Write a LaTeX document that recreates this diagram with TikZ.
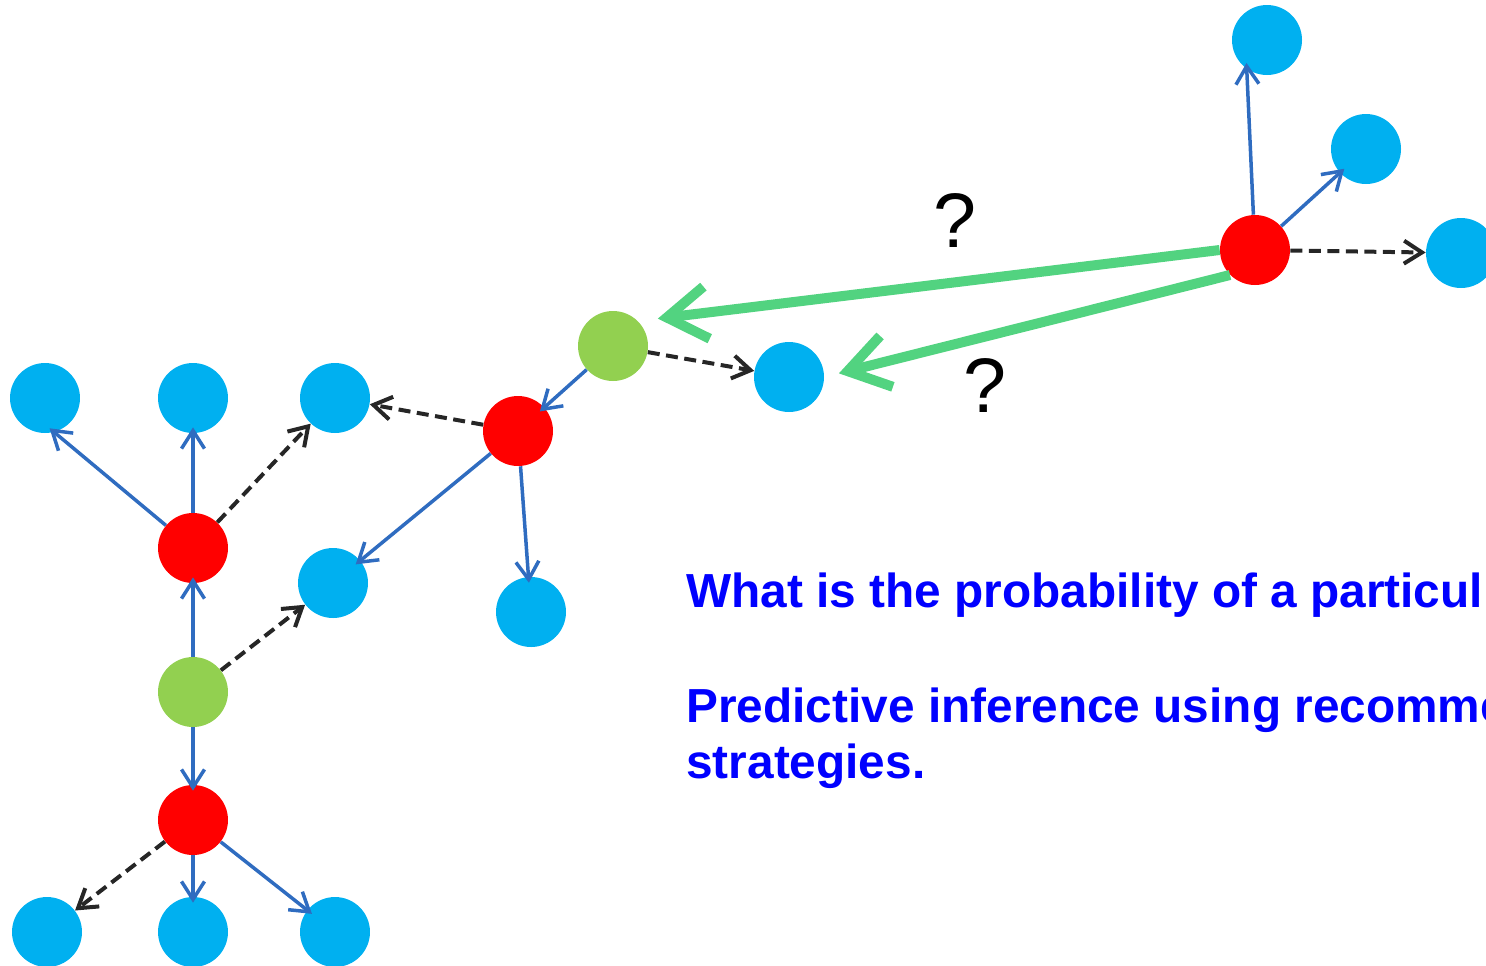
\documentclass[tikz,border=0pt]{standalone}
\usepackage{fontspec}
\setmainfont{Liberation Sans}
\usetikzlibrary{arrows.meta}

\definecolor{nodeblue}{RGB}{0,176,240}
\definecolor{nodered}{RGB}{255,0,0}
\definecolor{nodegreen}{RGB}{146,208,80}
\definecolor{edgeblue}{RGB}{47,108,192}
\definecolor{linkgreen}{RGB}{82,211,128}
\definecolor{textblue}{RGB}{0,0,255}

\begin{document}
\begin{tikzpicture}[x=0.02cm, y=-0.02cm,
	vert/.style={circle, minimum size=1.4cm, inner sep=0pt},
	item/.style={vert, fill=nodeblue},
	user/.style={vert, fill=nodered},
	seed/.style={vert, fill=nodegreen},
	tie/.style={draw=edgeblue, line width=0.07cm, -{Straight Barb[length=0.36cm, width=0.46cm]}, shorten >=-0.12cm},
	guess/.style={draw=black!85, line width=0.08cm, dash pattern=on 0.24cm off 0.13cm, -{Straight Barb[length=0.36cm, width=0.46cm]}},
	query/.style={draw=linkgreen, line width=0.2cm, -{Straight Barb[length=0.8cm, width=1.05cm]}},
	prompt/.style={text=textblue, font=\fontsize{27.2}{32}\selectfont\bfseries, anchor=base west, inner sep=0pt}]

	\useasboundingbox (0,0) rectangle (1486,965);

	% right cluster
	\node (u1) [user] at (1255, 250) {};
	\node (i1) [item] at (1267, 40) {};
	\node (i2) [item] at (1366, 149) {};
	\node (i3) [item] at (1461, 253) {};

	% middle cluster
	\node (s1) [seed] at (613, 346) {};
	\node (i4) [item] at (789, 377) {};
	\node (u2) [user] at (518, 431) {};
	\node (i5) [item] at (335, 398) {};
	\node (i6) [item] at (333, 583) {};
	\node (i7) [item] at (531, 612) {};

	% left cluster
	\node (i8) [item] at (45, 398) {};
	\node (i9) [item] at (193, 398) {};
	\node (u3) [user] at (193, 548) {};
	\node (s2) [seed] at (193, 692) {};
	\node (u4) [user] at (193, 820) {};
	\node (i10) [item] at (47, 932) {};
	\node (i11) [item] at (193, 932) {};
	\node (i12) [item] at (335, 932) {};

	\path[tie]
	(u1) edge (i1.235)
	(u1) edge (i2)
	(s1) edge (u2)
	(u2) edge (i6)
	(u2) edge (i7)
	(u3) edge (i8.-75)
	(u3) edge (i9)
	(s2) edge (u3)
	(s2) edge (u4)
	(u4) edge (i11)
	(u4) edge (i12);

	\path[guess]
	(u1) edge (i3)
	(s1) edge (i4)
	(u2) edge (i5)
	(u3) edge (i5)
	(s2) edge (i6)
	(u4) edge (i10);

	% the two asked links
	\path
	(u1.west) edge[query, shorten >=0.4cm] (s1.north east)
	(u1.south west) edge[query, shorten >=0.3cm] (i4.east);

	\node (q1) [font=\fontsize{44}{44}\selectfont] at (955, 220) {?};
	\node (q2) [font=\fontsize{44}{44}\selectfont] at (985, 385) {?};

	\node (t1) [prompt] at (686, 607) {What is the probability of a particul};
	\node (t2) [prompt] at (686, 722) {Predictive inference using recomme};
	\node (t3) [prompt] at (686, 778) {strategies.};

\end{tikzpicture}
\end{document}
